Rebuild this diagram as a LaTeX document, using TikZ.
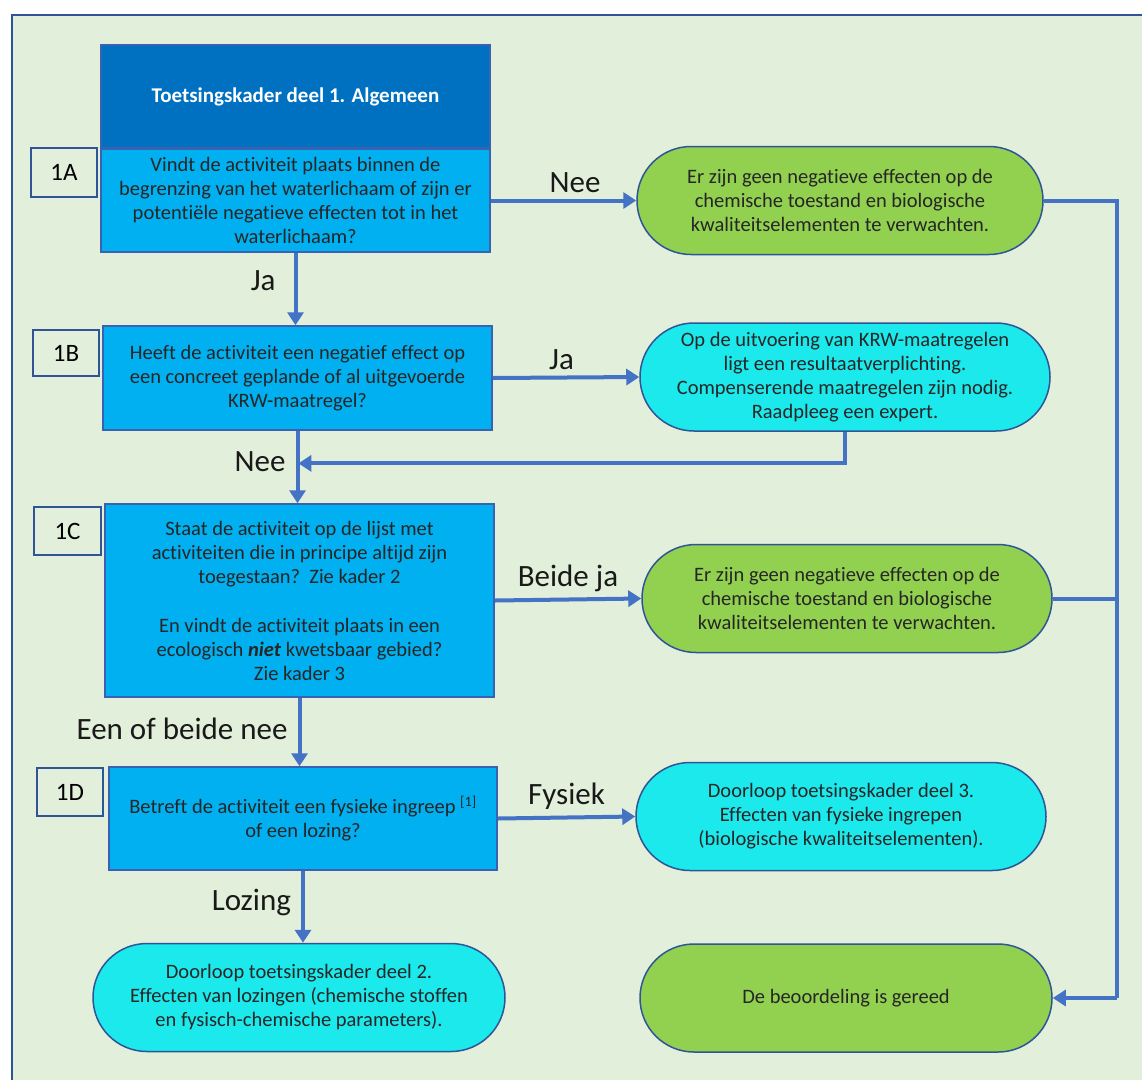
\documentclass[tikz,border=0pt]{standalone}
\usepackage{fontspec}
\setmainfont[Ligatures=NoCommon]{Carlito}
\usetikzlibrary{arrows.meta,calc}
\definecolor{bg}{HTML}{E2EFDA}
\definecolor{frame}{HTML}{2F5597}
\definecolor{hdr}{HTML}{0070C0}
\definecolor{qfill}{HTML}{00B0F0}
\definecolor{qline}{HTML}{3A62B0}
\definecolor{gfill}{HTML}{92D050}
\definecolor{cfill}{HTML}{1BE9EC}
\definecolor{conn}{HTML}{4472C4}
\begin{document}
\begin{tikzpicture}[x=1pt,y=-1pt,
  txt/.style={font=\fontsize{20.5}{24}\selectfont, align=center, text=black!85},
  qbox/.style={txt, draw=qline, line width=1.5pt, fill=qfill, minimum width=389pt, minimum height=103pt, inner sep=0pt},
  hbox/.style={qbox, fill=hdr, text=white, font=\fontsize{21}{24}\selectfont\bfseries},
  idbox/.style={draw=frame, line width=1.5pt, fill=bg, minimum width=66pt, minimum height=48pt, inner sep=0pt, font=\fontsize{25}{30}\selectfont},
  term/.style={txt, draw=frame, line width=1.5pt, minimum width=410pt, minimum height=108pt, rounded corners=54pt, inner sep=0pt},
  gterm/.style={term, fill=gfill},
  cterm/.style={term, fill=cfill},
  conline/.style={draw=conn, line width=4pt},
  arr/.style={conline, -{Triangle[length=13pt,width=16pt]}},
  lbl/.style={font=\fontsize{31}{34}\selectfont, text=black!90, inner sep=2pt}
]
\useasboundingbox (0,0) rectangle (1142,1079);
\clip (0,0) rectangle (1142,1079);
\fill[white] (0,0) rectangle (1142,1079);
\draw[frame, fill=bg, line width=2pt] (12,15) rectangle (1170,1110);

% question column
\node[hbox] (hdr) at (295.5,96.5) {Toetsingskader deel 1. Algemeen};
\node[qbox] (qa) at (295.5,200.5) {Vindt de activiteit plaats binnen de\\begrenzing van het waterlichaam of zijn er\\potentiële negatieve effecten tot in het\\waterlichaam?};
\node[qbox, minimum height=104pt] (qb) at (297.5,378) {Heeft de activiteit een negatief effect op\\een concreet geplande of al uitgevoerde\\KRW-maatregel?};
\node[qbox, minimum height=193pt] (qc) at (299.5,600.5) {Staat de activiteit op de lijst met\\activiteiten die in principe altijd zijn\\toegestaan?\ \ Zie kader 2\\[25pt]En vindt de activiteit plaats in een\\ecologisch \textbf{\textit{niet}} kwetsbaar gebied?\\Zie kader 3};
\node[qbox, minimum width=388pt] (qd) at (303,818.5) {Betreft de activiteit een fysieke ingreep \textsuperscript{[1]}\\of een lozing?};

% id boxes
\node[idbox, minimum height=49pt] (la) at (64,172.5) {1A};
\node[idbox, minimum height=46pt] (lb) at (66,353) {1B};
\node[idbox, minimum width=67pt] (lc) at (67.5,531) {1C};
\node[idbox] (ld) at (70,792) {1D};

% terminals
\node[gterm, minimum width=406pt] (g1) at (840,200.5) {Er zijn geen negatieve effecten op de\\chemische toestand en biologische\\kwaliteitselementen te verwachten.};
\node[cterm] (c1) at (845,377) {Op de uitvoering van KRW-maatregelen\\ligt een resultaatverplichting.\\Compenserende maatregelen zijn nodig.\\Raadpleeg een expert.};
\node[gterm] (g2) at (847,598.5) {Er zijn geen negatieve effecten op de\\chemische toestand en biologische\\kwaliteitselementen te verwachten.};
\node[cterm] (c2) at (841,816.5) {Doorloop toetsingskader deel 3.\\Effecten van fysieke ingrepen\\(biologische kwaliteitselementen).};
\node[gterm, minimum width=412pt] (fin) at (846,998) {De beoordeling is gereed};
\node[cterm, minimum width=412pt] (c3) at (299,997.5) {Doorloop toetsingskader deel 2.\\Effecten van lozingen (chemische stoffen\\en fysisch-chemische parameters).};

% connectors
\draw[arr] (qa.east) -- node[lbl, above=4pt, pos=.58] {Nee} (g1.west);
\draw[arr] (qa.south) -- node[lbl, left=16pt, pos=.39] {Ja} (qa.south |- qb.north);
\draw[arr] (qb.east) -- node[lbl, above=4pt, pos=.47] {Ja} (c1.west);
\coordinate (j) at ($(qb.south)!0.45!(qc.north)$);
\draw[arr] (qb.south) -- node[lbl, left=8pt, pos=.42] {Nee} (qb.south |- qc.north);
\draw[arr] (c1.south) |- (j);
\draw[arr] (qc.east) -- node[lbl, above=4pt, pos=.5] {Beide ja} (g2.west);
\draw[arr] (qc.south) -- node[lbl, left=8pt, pos=.46] {Een of beide nee} (qc.south |- qd.north);
\draw[arr] (qd.east) -- node[lbl, above=4pt, pos=.5] {Fysiek} (c2.west);
\draw[arr] (qd.south) -- node[lbl, left=8pt, pos=.44] {Lozing} (qd.south |- c3.north);

\coordinate (r1) at (1117,200.5);
\coordinate (r2) at (1117,998);
\draw[conline] (g1.east) -- (r1) -- (r2);
\draw[conline] (g2.east) -- (g2.east -| r1);
\draw[arr] (r2) -- (fin.east);
\end{tikzpicture}
\end{document}
